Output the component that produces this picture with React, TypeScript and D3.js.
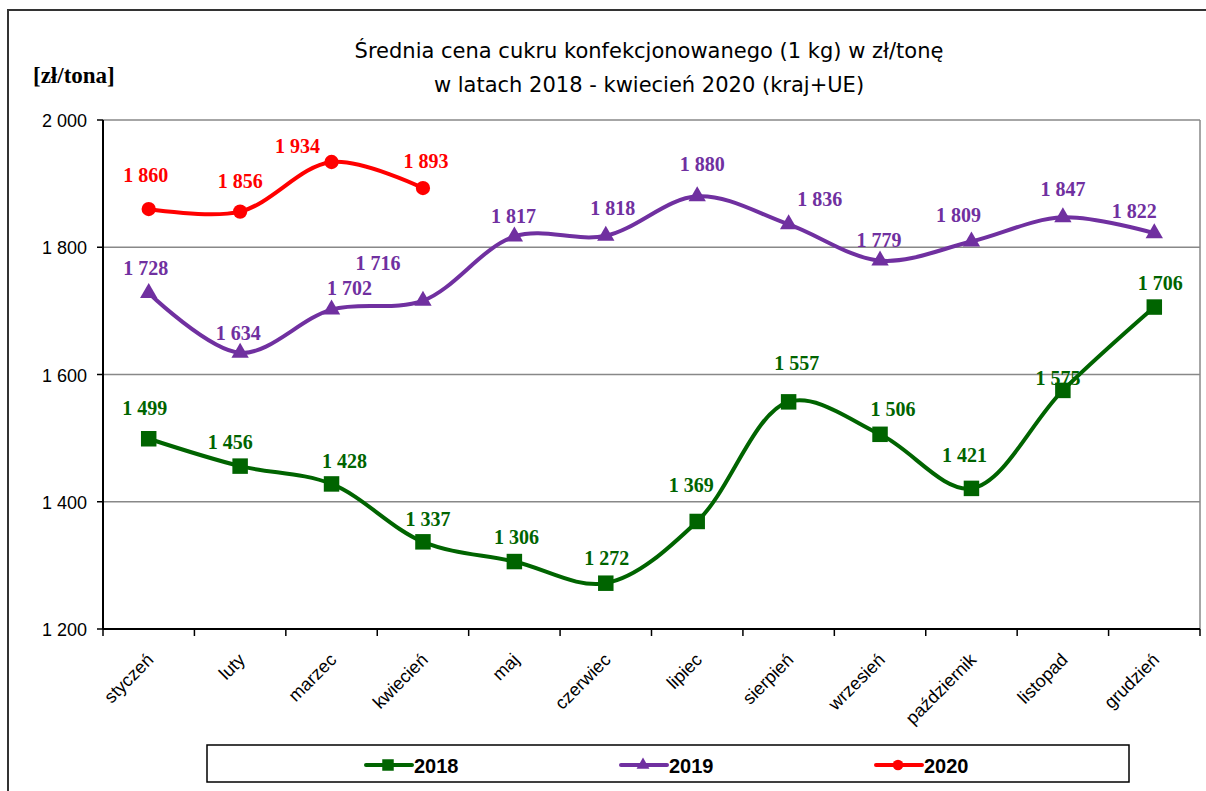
import * as React from 'react';
import * as d3 from 'd3';

const months = ['styczeń', 'luty', 'marzec', 'kwiecień', 'maj', 'czerwiec', 'lipiec', 'sierpień', 'wrzesień', 'październik', 'listopad', 'grudzień'];
const values2018 = [1499, 1456, 1428, 1337, 1306, 1272, 1369, 1557, 1506, 1421, 1575, 1706];
const values2019 = [1728, 1634, 1702, 1716, 1817, 1818, 1880, 1836, 1779, 1809, 1847, 1822];
const values2020 = [1860, 1856, 1934, 1893];
const yTicks = [1200, 1400, 1600, 1800, 2000];

// label placement nudges [dx, dy] relative to the point (dy = label centre)
const nudge2018 = [[-4, -31], [-10, -24], [13, -23], [5, -23], [2, -25], [1, -25], [-6, -36], [8, -39], [13, -25], [-7, -33], [-5, -12], [6, -24]];
const nudge2019 = [[-3, -25], [-2, -20], [18, -22], [-45, -38], [-1, -20], [7, -28], [5, -32], [31, -25], [-1, -21], [-13, -27], [0, -28], [-20, -22]];
const nudge2020 = [[-3, -34], [0, -31], [-34, -16], [3, -27]];

const series = [
  { name: '2018', values: values2018, nudge: nudge2018, color: '#006400', symbol: d3.symbolSquare, size: 240 },
  { name: '2019', values: values2019, nudge: nudge2019, color: '#7030A0', symbol: d3.symbolTriangle, size: 130 },
  { name: '2020', values: values2020, nudge: nudge2020, color: '#FF0000', symbol: d3.symbolCircle, size: 160 },
];

const W = 1206;
const H = 791;
const left = 103;
const right = 1200;
const top = 120;
const bottom = 629;

const fmt = d3.formatLocale({ decimal: ',', thousands: ' ', grouping: [3], currency: ['', ''] }).format(',d');

const App: React.FC = () => {
  const x = d3.scaleBand<string>().domain(months).range([left, right]);
  const y = d3.scaleLinear().domain([1200, 2000]).range([bottom, top]);
  const cx = (i: number) => x(months[i])! + x.bandwidth() / 2;
  const line = d3.line<number>()
    .x((d, i) => cx(i))
    .y(d => y(d))
    .curve(d3.curveCatmullRom.alpha(0.5));

  const legendY = 765;
  const legendX = [366, 621, 876];

  return (
    <svg width={W} height={H} style={{ position: 'absolute', left: 0, top: 0, background: '#fff' }}>
      {/* outer frame */}
      <rect x={8} y={10} width={W + 20} height={H + 20} fill="none" stroke="#333" strokeWidth={2} />

      {/* title */}
      <g fontFamily="'DejaVu Sans', sans-serif" fontSize={21} textAnchor="middle" fill="#000">
        <text x={649} y={58}>Średnia cena cukru konfekcjonowanego (1 kg) w zł/tonę</text>
        <text x={649} y={92}>w latach 2018 - kwiecień  2020 (kraj+UE)</text>
      </g>
      <text x={33} y={83} fontFamily="'Liberation Serif', serif" fontWeight="bold" fontSize={23}>[zł/tona]</text>

      {/* gridlines */}
      {yTicks.filter(t => t > 1200).map(t => (
        <line key={t} x1={left} x2={right} y1={y(t)} y2={y(t)} stroke="#888" strokeWidth={1.5} />
      ))}
      <line x1={right} x2={right} y1={top} y2={bottom} stroke="#888" strokeWidth={1.5} />

      {/* axes */}
      <line x1={left} x2={left} y1={top} y2={bottom} stroke="#000" strokeWidth={2} />
      <line x1={left} x2={right} y1={bottom} y2={bottom} stroke="#000" strokeWidth={2} />
      {yTicks.map(t => (
        <g key={t}>
          <line x1={left - 6} x2={left} y1={y(t)} y2={y(t)} stroke="#000" strokeWidth={1.5} />
          <text x={87} y={y(t) + 7} textAnchor="end" fontFamily="'Liberation Sans', Arial, sans-serif" fontSize={18}>{fmt(t)}</text>
        </g>
      ))}
      {months.map(m => (
        <line key={m} x1={x(m)!} x2={x(m)!} y1={bottom} y2={bottom + 7} stroke="#000" strokeWidth={1.5} />
      ))}
      <line x1={right} x2={right} y1={bottom} y2={bottom + 7} stroke="#000" strokeWidth={1.5} />
      {months.map((m, i) => (
        <text key={m} transform={`translate(${cx(i) + 6},${bottom + 32}) rotate(-45)`} textAnchor="end"
          fontFamily="'Liberation Sans', Arial, sans-serif" fontSize={18}>{m}</text>
      ))}

      {/* series */}
      {series.map(s => (
        <g key={s.name}>
          <path d={line(s.values) || undefined} fill="none" stroke={s.color} strokeWidth={4} />
          {s.values.map((v, i) => (
            <path key={i} d={d3.symbol(s.symbol, s.size)()!} transform={`translate(${cx(i)},${y(v)})`} fill={s.color} />
          ))}
          {s.values.map((v, i) => (
            <text key={'l' + i} x={cx(i) + s.nudge[i][0]} y={y(v) + s.nudge[i][1] + 7} textAnchor="middle" fill={s.color}
              fontFamily="'Liberation Serif', serif" fontWeight="bold" fontSize={20}>{fmt(v)}</text>
          ))}
        </g>
      ))}

      {/* legend */}
      <rect x={207} y={745} width={922} height={37} fill="#fff" stroke="#000" strokeWidth={1.5} />
      {series.map((s, k) => (
        <g key={s.name}>
          <line x1={legendX[k]} x2={legendX[k] + 46} y1={legendY} y2={legendY} stroke={s.color} strokeWidth={4} strokeLinecap="round" />
          <path d={d3.symbol(s.symbol, s.size * 0.55)()!} transform={`translate(${legendX[k] + 22},${legendY})`} fill={s.color} />
          <text x={legendX[k] + 48} y={legendY + 8} fontFamily="'Liberation Sans', Arial, sans-serif" fontWeight="bold" fontSize={20}>{s.name}</text>
        </g>
      ))}
    </svg>
  );
};

export default App;
